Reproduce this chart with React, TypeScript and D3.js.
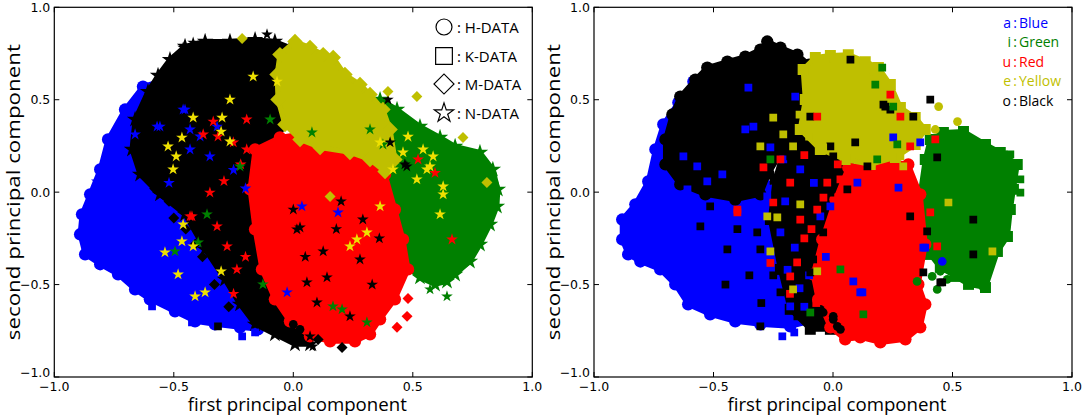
import { useEffect, useRef } from 'react';
import * as d3 from 'd3';

type Pt = [number, number];

const COLORS = {
  blue: '#0000ff',
  green: '#008000',
  red: '#ff0000',
  yellow: '#bfbf00',
  brightYellow: '#eee000',
  black: '#000000',
};

const tickValues = [-1, -0.5, 0, 0.5, 1];
const tickLabels = ['\u22121.0', '\u22120.5', '0.0', '0.5', '1.0'];

const xLabel = 'first principal component';
const yLabel = 'second principal component';

const leftLegend = ['H-DATA', 'K-DATA', 'M-DATA', 'N-DATA'];
const rightLegendVowels = ['a', 'i', 'u', 'e', 'o'];
const rightLegendNames = ['Blue', 'Green', 'Red', 'Yellow', 'Black'];

// ---- left panel: dense clusters (outlines) ----
const leftBlueOutline: Pt[] = [
  [-0.629, 0.571], [-0.704, 0.447], [-0.775, 0.285], [-0.808, 0.123], [-0.85, -0.012],
  [-0.884, -0.12], [-0.892, -0.228], [-0.871, -0.336], [-0.808, -0.39], [-0.733, -0.445],
  [-0.662, -0.526], [-0.6, -0.58], [-0.495, -0.645], [-0.411, -0.699], [-0.328, -0.715],
  [-0.223, -0.731], [-0.148, -0.742], [-0.077, -0.688], [-0.097, -0.31], [-0.139, 0.069],
  [-0.265, 0.393], [-0.411, 0.555], [-0.537, 0.609],
];
const leftBlackOutline: Pt[] = [
  [-0.608, 0.544], [-0.566, 0.631], [-0.516, 0.717], [-0.453, 0.788], [-0.369, 0.815],
  [-0.265, 0.815], [-0.16, 0.825], [-0.077, 0.815], [-0.014, 0.782], [0.02, 0.69],
  [0.011, 0.528], [-0.035, 0.366], [-0.097, 0.231], [-0.16, 0.042], [-0.148, -0.201],
  [-0.106, -0.418], [-0.035, -0.607], [0.049, -0.742], [0.07, -0.823], [0.007, -0.823],
  [-0.077, -0.769], [-0.16, -0.715], [-0.223, -0.607], [-0.286, -0.472], [-0.369, -0.31],
  [-0.453, -0.12], [-0.558, -0.012], [-0.641, 0.096], [-0.675, 0.231], [-0.662, 0.393],
];
const leftGreenOutline: Pt[] = [
  [0.3, 0.474], [0.363, 0.501], [0.434, 0.447], [0.53, 0.355], [0.614, 0.296],
  [0.677, 0.247], [0.781, 0.215], [0.835, 0.123], [0.856, 0.015], [0.852, -0.077],
  [0.823, -0.175], [0.781, -0.283], [0.739, -0.375], [0.677, -0.445], [0.643, -0.483],
  [0.593, -0.499], [0.53, -0.461], [0.48, -0.407], [0.446, -0.283], [0.405, -0.094],
  [0.363, 0.069], [0.329, 0.231], [0.304, 0.366],
];
const leftRedOutline: Pt[] = [
  [-0.16, 0.231], [-0.056, 0.296], [0.07, 0.323], [0.195, 0.258], [0.3, 0.231],
  [0.384, 0.096], [0.425, -0.094], [0.459, -0.256], [0.48, -0.418], [0.425, -0.58],
  [0.363, -0.688], [0.321, -0.769], [0.258, -0.807], [0.154, -0.807], [0.07, -0.78],
  [-0.014, -0.699], [-0.077, -0.58], [-0.131, -0.418], [-0.16, -0.201], [-0.181, 0.015],
];
const leftYellowOutline: Pt[] = [
  [-0.056, 0.744], [0.007, 0.815], [0.07, 0.782], [0.125, 0.744], [0.167, 0.728],
  [0.216, 0.636], [0.279, 0.582], [0.321, 0.528], [0.375, 0.447], [0.405, 0.339],
  [0.425, 0.177], [0.384, 0.112], [0.321, 0.177], [0.237, 0.215], [0.112, 0.242],
  [0.028, 0.285], [-0.035, 0.366], [-0.064, 0.501], [-0.068, 0.636],
];

// ---- left panel: loose markers ----
const leftBlackStars: Pt[] = [
  [0.015, -0.201], [0.125, -0.32], [0.279, -0.364], [0.057, -0.488], [0.141, -0.461],
  [0.237, -0.672], [0.099, -0.597], [0.07, -0.78], [0.082, -0.834], [0.0, -0.094],
  [0.405, 0.269], [0.475, 0.139], [0.396, 0.501], [0.291, -0.148], [0.467, 0.15],
  [0.028, -0.191], [-0.11, 0.853], [-0.419, 0.809], [-0.461, 0.782], [-0.503, 0.717],
  [0.2, -0.05], [0.33, -0.5], [0.18, -0.2], [0.36, -0.25], [0.05, -0.35],
];
const leftBlackDiamondsMixed: Pt[] = [
  [-0.52, -0.05], [-0.45, -0.2], [-0.38, -0.35], [-0.33, -0.5], [-0.27, -0.62],
  [-0.58, 0.02], [-0.5, -0.14], [-0.41, -0.28], [-0.05, 0.0], [0.03, -0.3],
];
const leftBlueStars: Pt[] = [
  [-0.461, 0.447], [-0.39, 0.301], [-0.432, 0.231], [-0.349, 0.193], [-0.558, 0.355],
  [-0.319, 0.355], [-0.453, 0.447], [-0.662, 0.312], [-0.57, 0.355], [-0.754, 0.177],
  [-0.704, 0.436], [-0.775, 0.269], [-0.822, 0.058], [-0.432, 0.339], [0.036, -0.077],
  [0.187, -0.11], [-0.026, -0.542], [-0.25, 0.12], [-0.2, 0.02], [-0.52, 0.05],
];
const leftRedStars: Pt[] = [
  [-0.335, 0.382], [-0.195, 0.393], [-0.377, 0.312], [-0.251, 0.269], [-0.195, 0.231],
  [-0.432, -0.131], [-0.319, -0.185], [-0.277, -0.293], [-0.236, -0.418], [-0.349, -0.002],
  [-0.315, 0.301], [-0.424, -0.131], [0.593, 0.104], [0.522, 0.177], [0.664, -0.256],
  [-0.22, 0.15], [-0.29, 0.06], [-0.2, -0.35], [-0.25, -0.55],
];
const leftGreenStars: Pt[] = [
  [-0.223, 0.139], [-0.361, -0.12], [-0.398, -0.272], [-0.495, -0.32], [-0.097, 0.393],
  [-0.127, -0.499], [0.166, -0.618], [0.204, -0.634], [0.308, -0.704], [0.627, -0.472],
  [0.643, -0.564], [0.572, -0.526], [0.078, 0.323], [0.321, 0.339], [0.375, 0.258],
];
const leftYellowStars: Pt[] = [
  [-0.168, 0.625], [-0.068, 0.598], [-0.265, 0.501], [-0.298, 0.403], [-0.419, 0.403],
  [-0.466, 0.295], [-0.524, 0.247], [-0.49, 0.193], [-0.503, 0.123], [-0.302, 0.328],
  [-0.265, 0.274], [-0.466, -0.266], [-0.419, -0.293], [-0.537, -0.326], [-0.482, -0.445],
  [-0.302, -0.428], [-0.411, -0.564], [-0.369, -0.542], [-0.461, -0.175], [0.517, 0.069],
  [0.614, -0.12], [0.627, -0.012], [0.308, -0.218], [0.237, -0.293], [0.417, 0.123],
  [0.543, 0.231], [0.459, 0.215], [0.363, 0.269], [0.572, 0.139], [0.585, 0.193],
  [0.627, 0.031], [0.559, 0.123], [0.266, -0.256], [0.363, -0.077], [0.48, 0.3],
];
const leftYellowDiamonds: Pt[] = [
  [-0.214, 0.831], [0.396, 0.544], [0.517, 0.517], [0.71, 0.296], [0.81, 0.052], [0.154, -0.023],
];
const leftRedDiamonds: Pt[] = [[0.48, -0.575], [0.476, -0.672], [0.434, -0.731]];
const leftBlackDiamonds: Pt[] = [[0.204, -0.84], [0.104, -0.797]];
const leftBlueSquares: Pt[] = [[-0.214, -0.78], [-0.16, -0.759], [-0.591, -0.618], [-0.424, -0.705]];
const leftBlackSquares: Pt[] = [[-0.315, -0.726], [-0.16, -0.677]];
const leftBlackCircles: Pt[] = [[0.0, -0.715], [0.028, -0.742]];

// ---- right panel: dense clusters ----
const rightBlueOutline: Pt[] = [
  [-0.584, 0.598], [-0.647, 0.485], [-0.71, 0.366], [-0.743, 0.231], [-0.773, 0.058],
  [-0.827, -0.066], [-0.882, -0.148], [-0.882, -0.256], [-0.857, -0.337], [-0.806, -0.375],
  [-0.723, -0.418], [-0.66, -0.499], [-0.606, -0.607], [-0.514, -0.661], [-0.409, -0.699],
  [-0.304, -0.715], [-0.179, -0.726], [-0.095, -0.699], [-0.074, -0.526], [-0.137, -0.256],
  [-0.304, 0.123], [-0.43, 0.393], [-0.534, 0.582],
];
const rightBlackOutline: Pt[] = [
  [-0.701, 0.285], [-0.672, 0.42], [-0.639, 0.517], [-0.576, 0.609], [-0.526, 0.674],
  [-0.442, 0.706], [-0.367, 0.733], [-0.304, 0.771], [-0.275, 0.815], [-0.22, 0.782],
  [-0.149, 0.744], [-0.1, 0.69], [-0.08, 0.55], [-0.11, 0.4], [-0.2, 0.25],
  [-0.27, 0.1], [-0.304, -0.012], [-0.409, -0.04], [-0.534, -0.012], [-0.639, 0.042],
  [-0.701, 0.15],
];
const rightMixedOutline: Pt[] = [
  [-0.179, 0.339], [-0.074, 0.285], [0.064, 0.177], [0.072, -0.04], [0.01, -0.256],
  [-0.053, -0.526], [-0.011, -0.742], [-0.095, -0.742], [-0.179, -0.634], [-0.22, -0.418],
  [-0.262, -0.148], [-0.242, 0.069],
];
const rightRedOutline: Pt[] = [
  [0.064, 0.133], [0.19, 0.177], [0.315, 0.15], [0.365, -0.012], [0.386, -0.283],
  [0.357, -0.499], [0.386, -0.607], [0.365, -0.731], [0.303, -0.796], [0.198, -0.813],
  [0.114, -0.786], [0.051, -0.796], [-0.011, -0.731], [-0.062, -0.58], [-0.083, -0.445],
  [-0.045, -0.256], [0.01, -0.04],
];
const rightGreenOutline: Pt[] = [
  [0.407, 0.285], [0.462, 0.323], [0.546, 0.328], [0.638, 0.258], [0.7, 0.215],
  [0.771, 0.15], [0.755, 0.015], [0.742, -0.094], [0.73, -0.24], [0.688, -0.321],
  [0.638, -0.516], [0.567, -0.499], [0.512, -0.456], [0.449, -0.407], [0.407, -0.337],
  [0.374, -0.202], [0.365, -0.012], [0.386, 0.177],
];
const rightYellowOutline: Pt[] = [
  [-0.125, 0.663], [-0.074, 0.728], [-0.011, 0.739], [0.064, 0.744], [0.135, 0.706],
  [0.19, 0.674], [0.24, 0.582], [0.282, 0.458], [0.344, 0.404], [0.386, 0.339],
  [0.344, 0.258], [0.261, 0.188], [0.156, 0.15], [0.051, 0.177], [-0.053, 0.231],
  [-0.137, 0.339], [-0.116, 0.501],
];

// ---- right panel: loose markers ----
const rightBlueSquares: Pt[] = [
  [-0.354, 0.566], [-0.333, 0.355], [-0.367, 0.339], [-0.158, 0.517], [-0.463, 0.096],
  [-0.526, 0.058], [-0.568, 0.139], [-0.626, 0.193], [-0.609, 0.015], [-0.262, 0.242],
  [-0.208, 0.177], [-0.275, -0.023], [-0.137, 0.123], [-0.011, -0.077], [0.102, 0.052],
  [0.274, 0.025], [0.252, 0.296], [0.365, 0.269], [0.378, -0.3], [0.123, -0.542],
  [-0.417, -0.164], [-0.375, -0.094], [-0.22, -0.218], [-0.053, -0.131], [-0.179, -0.618],
  [0.386, -0.3], [0.114, -0.542], [0.085, -0.483], [-0.212, -0.78], [-0.162, -0.759],
  [-0.16, -0.3], [-0.1, -0.45], [-0.2, -0.05], [-0.08, 0.05], [-0.03, -0.35],
  [-0.14, -0.52], [-0.19, -0.42], [-0.12, -0.62],
];
const rightBlackSquares: Pt[] = [
  [0.001, 0.193], [0.144, 0.139], [0.06, 0.015], [-0.011, -0.002], [-0.041, -0.218],
  [-0.083, -0.364], [0.323, -0.131], [0.394, -0.212], [0.436, 0.188], [0.587, -0.148],
  [0.587, -0.337], [0.378, -0.434], [0.457, -0.488], [0.093, 0.269], [0.24, 0.447],
  [0.336, 0.409], [0.407, 0.501], [0.211, 0.474], [0.073, 0.717], [0.219, 0.463],
  [-0.233, -0.148], [-0.317, -0.218], [-0.191, -0.347], [-0.095, -0.434], [-0.22, -0.542],
  [-0.149, -0.672], [-0.304, -0.726], [-0.304, -0.31], [-0.442, -0.31], [-0.555, -0.185],
  [-0.514, -0.077], [-0.107, -0.293], [-0.137, -0.056], [-0.191, 0.025], [-0.066, 0.123],
  [-0.011, 0.247], [-0.095, 0.409], [-0.179, 0.193], [0.449, -0.488], [-0.25, -0.45],
  [-0.35, -0.45], [-0.4, -0.2], [-0.45, -0.5], [-0.3, -0.6],
];
const rightRedSquares: Pt[] = [
  [-0.22, 0.177], [-0.291, 0.134], [-0.179, 0.052], [-0.066, 0.409], [0.24, 0.528],
  [-0.25, -0.056], [-0.4, -0.094], [-0.024, 0.052], [-0.137, -0.148], [0.031, 0.069],
  [-0.066, -0.094], [-0.262, -0.383], [-0.179, -0.456], [0.436, -0.293], [0.407, -0.11],
  [0.323, 0.247], [0.282, 0.409], [0.428, 0.285], [-0.4, -0.11], [-0.12, -0.25],
  [-0.04, -0.03], [-0.09, -0.2], [-0.15, -0.38], [-0.07, -0.6], [0.02, 0.15],
  [-0.12, 0.2], [-0.18, -0.55],
];
const rightYellowSquares: Pt[] = [
  [-0.25, 0.403], [-0.275, -0.131], [-0.233, -0.137], [-0.262, -0.321], [-0.137, -0.066],
  [-0.066, -0.428], [-0.167, -0.526], [0.483, -0.056], [0.667, -0.321], [0.156, 0.458],
  [0.282, 0.193], [0.294, 0.139], [-0.208, 0.312], [-0.304, 0.247], [-0.167, 0.247],
  [-0.041, 0.242], [-0.1, 0.3], [-0.14, 0.42],
];
const rightGreenSquares: Pt[] = [
  [0.206, 0.674], [0.714, 0.204], [0.742, 0.204], [0.771, 0.15], [0.784, 0.069],
  [0.784, -0.002], [0.252, 0.463], [0.177, 0.582], [0.031, -0.418], [0.127, -0.661],
  [-0.095, -0.651], [-0.262, 0.177], [0.269, 0.258], [0.185, 0.177],
];
const rightBlackCircles: Pt[] = [
  [-0.053, -0.634], [0.001, -0.672], [0.018, -0.726], [0.031, -0.742], [0.001, -0.688],
  [-0.041, -0.651],
];
const rightYellowCircles: Pt[] = [
  [0.442, 0.463], [0.521, 0.382], [0.428, 0.339], [0.001, 0.717], [0.06, 0.733],
  [0.185, 0.68], [0.168, 0.652],
];
const rightGreenCircles: Pt[] = [
  [0.352, -0.483], [0.436, -0.526], [0.449, -0.428], [0.415, -0.456], [0.478, -0.472],
  [0.629, -0.516], [0.604, -0.488], [0.714, -0.24],
];
const rightBlueCircles: Pt[] = [[0.457, -0.375]];

type Shape = 'star' | 'square' | 'circle' | 'diamond';
interface Layer {
  points: Pt[];
  color: string;
  shape: Shape;
  blob?: boolean;
}

const leftLayers: Layer[] = [
  { points: leftBlueOutline, color: COLORS.blue, shape: 'circle', blob: true },
  { points: leftBlackOutline, color: COLORS.black, shape: 'star', blob: true },
  { points: leftBlackDiamondsMixed, color: COLORS.black, shape: 'diamond' },
  { points: leftGreenOutline, color: COLORS.green, shape: 'star', blob: true },
  { points: leftRedOutline, color: COLORS.red, shape: 'circle', blob: true },
  { points: leftYellowOutline, color: COLORS.yellow, shape: 'diamond', blob: true },
  { points: leftBlueSquares, color: COLORS.blue, shape: 'square' },
  { points: leftBlackSquares, color: COLORS.black, shape: 'square' },
  { points: leftBlackCircles, color: COLORS.black, shape: 'circle' },
  { points: leftBlackStars, color: COLORS.black, shape: 'star' },
  { points: leftBlueStars, color: COLORS.blue, shape: 'star' },
  { points: leftRedStars, color: COLORS.red, shape: 'star' },
  { points: leftGreenStars, color: COLORS.green, shape: 'star' },
  { points: leftYellowStars, color: COLORS.brightYellow, shape: 'star' },
  { points: leftYellowDiamonds, color: COLORS.yellow, shape: 'diamond' },
  { points: leftRedDiamonds, color: COLORS.red, shape: 'diamond' },
  { points: leftBlackDiamonds, color: COLORS.black, shape: 'diamond' },
];

const rightLayers: Layer[] = [
  { points: rightBlueOutline, color: COLORS.blue, shape: 'circle', blob: true },
  { points: rightBlackOutline, color: COLORS.black, shape: 'circle', blob: true },
  { points: rightMixedOutline, color: COLORS.black, shape: 'square', blob: true },
  { points: rightGreenOutline, color: COLORS.green, shape: 'square', blob: true },
  { points: rightRedOutline, color: COLORS.red, shape: 'circle', blob: true },
  { points: rightYellowOutline, color: COLORS.yellow, shape: 'square', blob: true },
  { points: rightBlackCircles, color: COLORS.black, shape: 'circle' },
  { points: rightGreenCircles, color: COLORS.green, shape: 'circle' },
  { points: rightYellowCircles, color: COLORS.yellow, shape: 'circle' },
  { points: rightBlueCircles, color: COLORS.blue, shape: 'circle' },
  { points: rightBlueSquares, color: COLORS.blue, shape: 'square' },
  { points: rightBlackSquares, color: COLORS.black, shape: 'square' },
  { points: rightRedSquares, color: COLORS.red, shape: 'square' },
  { points: rightYellowSquares, color: COLORS.yellow, shape: 'square' },
  { points: rightGreenSquares, color: COLORS.green, shape: 'square' },
];

const WIDTH = 1084;
const HEIGHT = 417;
const TICK_FONT = '"DejaVu Sans", sans-serif';
const LABEL_FONT = '"Open Sans", "Noto Sans", sans-serif';

function symbolPath(shape: Shape, scale = 1) {
  if (shape === 'star') return d3.symbol(d3.symbolStar, 42 * scale)()!;
  if (shape === 'circle') return d3.symbol(d3.symbolCircle, 60 * scale)()!;
  return d3.symbol(d3.symbolSquare, 60 * scale)()!;
}

function drawPanel(
  root: d3.Selection<SVGGElement, unknown, null, undefined>,
  x0: number,
  layers: Layer[],
) {
  const x = d3.scaleLinear().domain([-1, 1]).range([x0, x0 + 478]);
  const y = d3.scaleLinear().domain([-1, 1]).range([377, 7.3]);

  const g = root.append('g');
  const clipId = `clip-${Math.round(x0)}`;
  root.append('clipPath').attr('id', clipId)
    .append('rect').attr('x', x0).attr('y', 7.3).attr('width', 478).attr('height', 369.7);
  const plot = g.append('g').attr('clip-path', `url(#${clipId})`);

  const line = d3.line<Pt>().x(d => x(d[0])).y(d => y(d[1])).curve(d3.curveLinearClosed);

  layers.forEach(layer => {
    if (layer.blob) {
      plot.append('path')
        .attr('d', line(layer.points))
        .attr('fill', layer.color)
        .attr('stroke', layer.color)
        .attr('stroke-width', 5)
        .attr('stroke-linejoin', 'round');
    }
    plot.selectAll(null)
      .data(layer.points)
      .enter().append('path')
      .attr('d', symbolPath(layer.shape, layer.blob ? 2 : 1))
      .attr('transform', d => `translate(${x(d[0])},${y(d[1])})${layer.shape === 'diamond' ? ' rotate(45)' : ''}`)
      .attr('fill', layer.color);
  });

  // frame
  g.append('rect')
    .attr('x', x0).attr('y', 7.3).attr('width', 478).attr('height', 369.7)
    .attr('fill', 'none').attr('stroke', '#000').attr('stroke-width', 1.2);

  // inward ticks on all four sides
  tickValues.forEach((t, i) => {
    const tx = x(t);
    const ty = y(t);
    g.append('line').attr('x1', tx).attr('x2', tx).attr('y1', 377).attr('y2', 372).attr('stroke', '#000');
    g.append('line').attr('x1', tx).attr('x2', tx).attr('y1', 7.3).attr('y2', 12.3).attr('stroke', '#000');
    g.append('line').attr('x1', x0).attr('x2', x0 + 5).attr('y1', ty).attr('y2', ty).attr('stroke', '#000');
    g.append('line').attr('x1', x0 + 478).attr('x2', x0 + 473).attr('y1', ty).attr('y2', ty).attr('stroke', '#000');

    g.append('text')
      .attr('x', tx).attr('y', 391)
      .attr('text-anchor', 'middle')
      .style('font-family', TICK_FONT).style('font-size', '12.5px')
      .text(tickLabels[i]);
    g.append('text')
      .attr('x', x0 - 4).attr('y', ty + (t === -1 ? 0 : 4.5))
      .attr('text-anchor', 'end')
      .style('font-family', TICK_FONT).style('font-size', '12.5px')
      .text(tickLabels[i]);
  });

  g.append('text')
    .attr('x', x(0) + 4).attr('y', 411)
    .attr('text-anchor', 'middle')
    .attr('textLength', 219).attr('lengthAdjust', 'spacingAndGlyphs')
    .style('font-family', LABEL_FONT).style('font-size', '18px')
    .text(xLabel);
  g.append('text')
    .attr('transform', `translate(${x0 - 34},${y(0)}) rotate(-90)`)
    .attr('text-anchor', 'middle')
    .attr('textLength', 296).attr('lengthAdjust', 'spacingAndGlyphs')
    .style('font-family', LABEL_FONT).style('font-size', '18px')
    .text(yLabel);

  return { x, y, g };
}

export default function App() {
  const svgRef = useRef<SVGSVGElement>(null);

  useEffect(() => {
    const svg = d3.select(svgRef.current);
    svg.selectAll('*').remove();
    const root = svg.append('g') as unknown as d3.Selection<SVGGElement, unknown, null, undefined>;

    drawPanel(root, 54.3, leftLayers);
    drawPanel(root, 594, rightLayers);

    // left legend: marker shapes
    const legendShapes: Shape[] = ['circle', 'square', 'diamond', 'star'];
    const legendRows = [27, 56, 84, 113];
    legendShapes.forEach((s, i) => {
      const path = s === 'star' ? d3.symbol(d3.symbolStar, 115)()!
        : s === 'circle' ? d3.symbol(d3.symbolCircle, 200)()!
        : s === 'diamond' ? d3.symbol(d3.symbolSquare, 200)()!
        : d3.symbol(d3.symbolSquare, 280)()!;
      root.append('path')
        .attr('d', path)
        .attr('transform', `translate(444,${legendRows[i]})${s === 'diamond' ? ' rotate(45)' : ''}`)
        .attr('fill', 'none').attr('stroke', '#000').attr('stroke-width', 1.2);
      root.append('text')
        .attr('x', 457).attr('y', legendRows[i] + 5.5)
        .style('font-family', LABEL_FONT).style('font-size', '15px')
        .text(`: ${leftLegend[i]}`);
    });

    // right legend: vowel -> colour
    const rightColors = [COLORS.blue, COLORS.green, COLORS.red, COLORS.yellow, COLORS.black];
    const rightRows = [23, 42, 62, 81, 101];
    rightLegendVowels.forEach((v, i) => {
      root.append('text')
        .attr('x', 1017).attr('y', rightRows[i] + 5)
        .attr('text-anchor', 'end')
        .style('font-family', LABEL_FONT).style('font-size', '14px')
        .attr('fill', rightColors[i])
        .text(`${v}\u2009:`);
      root.append('text')
        .attr('x', 1019).attr('y', rightRows[i] + 5)
        .style('font-family', LABEL_FONT).style('font-size', '14px')
        .attr('fill', rightColors[i])
        .text(rightLegendNames[i]);
    });
  }, []);

  return (
    <div>
      <svg
        ref={svgRef}
        width={WIDTH}
        height={HEIGHT}
        style={{ position: 'absolute', left: 0, top: 0, background: '#fff' }}
      />
    </div>
  );
}
